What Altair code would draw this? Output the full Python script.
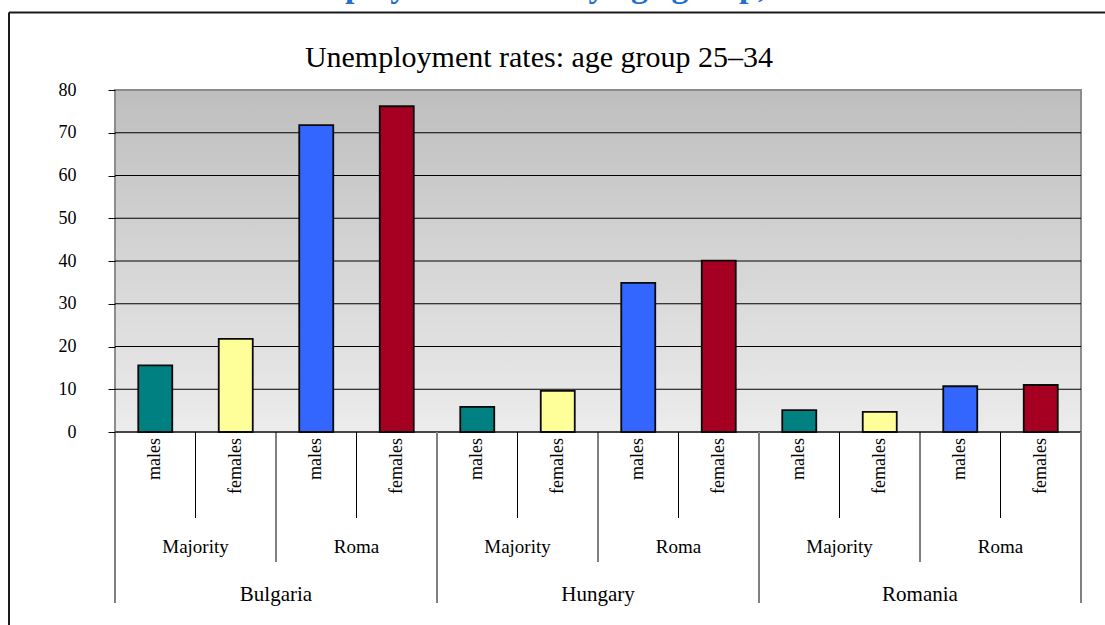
import altair as alt
import pandas as pd

# Unemployment rates (%) for the 25-34 age group
countries = ["Bulgaria", "Hungary", "Romania"]
groups = ["Majority", "Roma"]
sexes = ["males", "females"]
rates = [15.6, 21.8, 71.8, 76.2,   # Bulgaria
         5.9, 9.6, 34.9, 40.1,     # Hungary
         5.1, 4.7, 10.7, 11.0]     # Romania
y_ticks = [0, 10, 20, 30, 40, 50, 60, 70, 80]

series_names = ["Majority males", "Majority females", "Roma males", "Roma females"]
series_colors = ["#008080", "#FFFF99", "#3366FF", "#A50021"]

title_text = "Unemployment rates: age group 25\u201334"
header_text = "Unemployment rates by age group,"

FONT = "Liberation Serif"
W, H = 966, 342          # plot area
PAD = {"left": 115, "top": 90, "right": 24, "bottom": 193}

# ---- tables built from the arrays above ----
rows = []
i = 0
for c in countries:
    for g in groups:
        for s in sexes:
            rows.append({"idx": i, "country": c, "group": g, "sex": s,
                         "series": f"{g} {s}", "rate": rates[i]})
            i += 1
bars_df = pd.DataFrame(rows)

n_sex, n_grp = len(sexes), len(groups)
per_country = n_sex * n_grp
group_df = pd.DataFrame([
    {"pos": (k * n_sex) + (n_sex - 1) / 2, "label": groups[k % n_grp]}
    for k in range(len(countries) * n_grp)
])
country_df = pd.DataFrame([
    {"pos": k * per_country + (per_country - 1) / 2, "label": c}
    for k, c in enumerate(countries)
])
# boundaries between neighbouring categories, by level
sex_bounds = pd.DataFrame({"pos": [k * n_sex + 0.5 for k in range(len(countries) * n_grp)]})
grp_bounds = pd.DataFrame({"pos": [k * per_country + n_sex - 0.5 for k in range(len(countries))]})
cty_bounds = pd.DataFrame({"pos": [k * per_country - 0.5 for k in range(len(countries) + 1)]})
grid_df = pd.DataFrame({"v": y_ticks[:-1]})
one = pd.DataFrame({"k": [0]})

x_scale = alt.Scale(domain=[-0.5, len(rates) - 0.5], nice=False, zero=False, padding=0)
y_scale = alt.Scale(domain=[y_ticks[0], y_ticks[-1]], nice=False)
y_axis = alt.Axis(values=y_ticks, grid=False, domain=False, title=None,
                  tickColor="black", tickSize=7, tickWidth=1,
                  labelFont=FONT, labelFontSize=18, labelColor="black",
                  labelPadding=32, zindex=1)

# shaded plot background with grey border
background = alt.Chart(one).mark_rect(
    fill=alt.LinearGradient(
        gradient="linear",
        stops=[alt.GradientStop(color="#bebebe", offset=0),
               alt.GradientStop(color="#ececec", offset=1)],
        x1=0, x2=0, y1=0, y2=1),
    stroke="#8c8c8c", strokeWidth=2,
).encode(x=alt.value(0), x2=alt.value(W), y=alt.value(0), y2=alt.value(H))

grid = alt.Chart(grid_df).mark_rule(color="black", strokeWidth=1).encode(
    y=alt.Y("v:Q", scale=y_scale, axis=y_axis),
    x=alt.value(0), x2=alt.value(W),
)

bars = alt.Chart(bars_df).mark_bar(size=34, stroke="#0a0a0a", strokeWidth=1.8).encode(
    x=alt.X("idx:Q", scale=x_scale, axis=None),
    y=alt.Y("rate:Q", scale=y_scale, axis=y_axis),
    color=alt.Color("series:N", scale=alt.Scale(domain=series_names, range=series_colors),
                    legend=None),
)

def bounds(df, y_end, color, width):
    return alt.Chart(df).mark_rule(color=color, strokeWidth=width).encode(
        x=alt.X("pos:Q", scale=x_scale, axis=None),
        y=alt.value(H), y2=alt.value(y_end),
    )

sex_rules = bounds(sex_bounds, 428, "black", 1)
grp_rules = bounds(grp_bounds, 472, "black", 1)
cty_rules = bounds(cty_bounds, 513, "#808080", 2)

sex_labels = alt.Chart(bars_df).mark_text(
    angle=270, align="right", baseline="middle", font=FONT, fontSize=18, color="black"
).encode(x=alt.X("idx:Q", scale=x_scale, axis=None), y=alt.value(H + 6), text="sex:N")

grp_labels = alt.Chart(group_df).mark_text(
    align="center", baseline="middle", font=FONT, fontSize=19, color="black"
).encode(x=alt.X("pos:Q", scale=x_scale, axis=None), y=alt.value(457), text="label:N")

cty_labels = alt.Chart(country_df).mark_text(
    align="center", baseline="middle", font=FONT, fontSize=21, color="black"
).encode(x=alt.X("pos:Q", scale=x_scale, axis=None), y=alt.value(505), text="label:N")

title = alt.Chart(one).mark_text(
    align="center", baseline="alphabetic", font=FONT, fontSize=30, color="black"
).encode(x=alt.value(424), y=alt.value(-23), text=alt.value(title_text))

# document heading above the chart frame, running off the top edge
header = alt.Chart(one).mark_text(
    align="left", baseline="alphabetic", font=FONT, fontSize=34, fontWeight="bold",
    color="#1f6fd0"
).encode(x=alt.value(143), y=alt.value(-93), text=alt.value(header_text))

frame_top = alt.Chart(one).mark_rule(color="#1a1a1a", strokeWidth=2).encode(
    x=alt.value(-106), x2=alt.value(W + PAD["right"] + 5), y=alt.value(-77.5))
frame_left = alt.Chart(one).mark_rule(color="#1a1a1a", strokeWidth=2).encode(
    x=alt.value(-106), y=alt.value(-77.5), y2=alt.value(H + PAD["bottom"] + 5))

chart = alt.layer(
    background, grid, bars, sex_rules, grp_rules, cty_rules,
    sex_labels, grp_labels, cty_labels, title, header, frame_top, frame_left,
).properties(
    width=W, height=H, autosize=alt.AutoSizeParams(type="none"),
    padding=PAD, background="white",
).configure_view(stroke=None)

chart.save("out.html", embed_options={"renderer": "svg", "actions": False})
